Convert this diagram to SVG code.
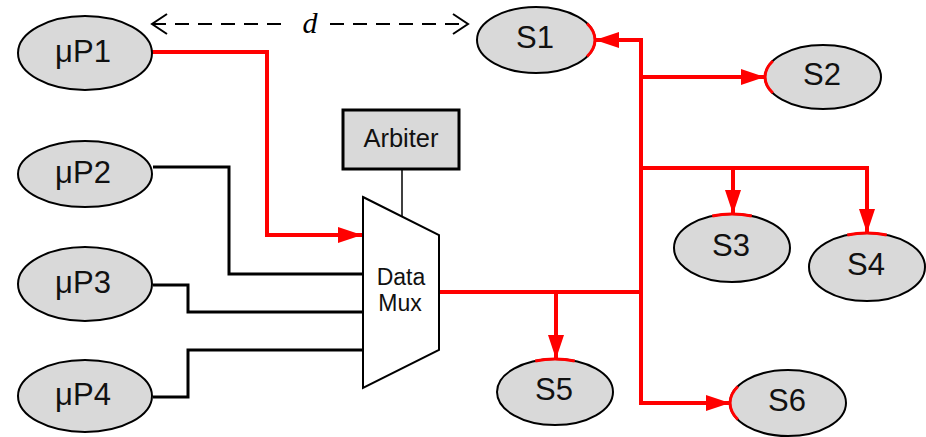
<svg xmlns="http://www.w3.org/2000/svg" width="926" height="437" viewBox="0 0 926 437">
  <defs>
    <marker id="redArrow" markerUnits="userSpaceOnUse" markerWidth="26" markerHeight="18" refX="24" refY="8" orient="auto">
      <path d="M0,0 L24,8 L0,16 z" fill="#ff0000"/>
    </marker>
    <marker id="openArrow" markerUnits="userSpaceOnUse" markerWidth="20" markerHeight="24" refX="17" refY="12" orient="auto-start-reverse">
      <path d="M2,2 L17,12 L2,22" fill="none" stroke="#000" stroke-width="2"/>
    </marker>
  </defs>
  <style>
    .node { fill: #d9d9d9; stroke: #000; stroke-width: 2; }
    .lbl { font-family: "Liberation Sans", Arial, sans-serif; font-size: 31px; fill: #111; text-anchor: middle; dominant-baseline: central; }
    .red { fill: none; stroke: #ff0000; stroke-width: 4; stroke-linejoin: miter; }
    .blk { fill: none; stroke: #000; stroke-width: 3; }
    .hit { fill: none; stroke: #ff0000; stroke-width: 3; }
  </style>
  <rect width="926" height="437" fill="#fff"/>

  <!-- connectors -->
  <g id="connectors">
    <!-- distance marker -->
    <line x1="152" y1="24" x2="290" y2="24" stroke="#000" stroke-width="2" stroke-dasharray="14,9" marker-start="url(#openArrow)"/>
    <line x1="330" y1="24" x2="468" y2="24" stroke="#000" stroke-width="2" stroke-dasharray="14,9" marker-end="url(#openArrow)"/>
    <text x="310" y="22" font-family="Liberation Serif, serif" font-style="italic" font-size="30" text-anchor="middle" dominant-baseline="central">d</text>

    <!-- inputs to the mux -->
    <polyline class="red" points="152,52 267,52 267,235 362,235" marker-end="url(#redArrow)"/>
    <polyline class="blk" points="153,167 229,167 229,274 363,274"/>
    <polyline class="blk" points="153,285 188,285 188,312 363,312"/>
    <polyline class="blk" points="153,397 188,397 188,350 363,350"/>

    <!-- arbiter to mux -->
    <line x1="402" y1="169" x2="402" y2="216" stroke="#000" stroke-width="1.5"/>

    <!-- output bus -->
    <polyline class="red" points="437,292 641,292"/>
    <line class="red" x1="641" y1="38" x2="641" y2="405"/>
    <polyline class="red" points="643,40 595,40" marker-end="url(#redArrow)"/>
    <polyline class="red" points="641,77 765,77" marker-end="url(#redArrow)"/>
    <polyline class="red" points="641,168 867,168 867,233" marker-end="url(#redArrow)"/>
    <polyline class="red" points="733,168 733,214" marker-end="url(#redArrow)"/>
    <polyline class="red" points="556,292 556,359" marker-end="url(#redArrow)"/>
    <polyline class="red" points="639,403 730,403" marker-end="url(#redArrow)"/>
  </g>

  <!-- processors -->
  <g id="uP1"><ellipse class="node" cx="85" cy="53" rx="67" ry="37"/><text class="lbl" x="83" y="51">μP1</text></g>
  <g id="uP2"><ellipse class="node" cx="85" cy="174" rx="67" ry="33"/><text class="lbl" x="83" y="172">μP2</text></g>
  <g id="uP3"><ellipse class="node" cx="85" cy="284" rx="67" ry="37"/><text class="lbl" x="83" y="282">μP3</text></g>
  <g id="uP4"><ellipse class="node" cx="85" cy="396" rx="67" ry="36"/><text class="lbl" x="83" y="394">μP4</text></g>

  <!-- arbiter -->
  <g id="arbiter">
    <rect x="343" y="110" width="116" height="59" fill="#d9d9d9" stroke="#000" stroke-width="3"/>
    <text class="lbl" x="401" y="138" style="font-size:25.5px">Arbiter</text>
  </g>

  <!-- data mux -->
  <g id="mux">
    <polygon points="363,197 439,235 439,350 363,388" fill="#fff" stroke="#000" stroke-width="2"/>
    <text class="lbl" x="401" y="277" style="font-size:23px">Data</text>
    <text class="lbl" x="400" y="303" style="font-size:23px">Mux</text>
  </g>

  <!-- slaves -->
  <g id="S1"><ellipse class="node" cx="536" cy="40" rx="59" ry="33"/><path class="hit" d="M587.1,23.5 A59,33 0 0,1 587.1,56.5"/><text class="lbl" x="535" y="37">S1</text></g>
  <g id="S2"><ellipse class="node" cx="823" cy="77" rx="58" ry="32"/><path class="hit" d="M772.8,93 A58,32 0 0,1 772.8,61"/><text class="lbl" x="822" y="74">S2</text></g>
  <g id="S3"><ellipse class="node" cx="732" cy="248" rx="58" ry="34"/><path class="hit" d="M712.2,216 A58,34 0 0,1 751.8,216"/><text class="lbl" x="731" y="245">S3</text></g>
  <g id="S4"><ellipse class="node" cx="867" cy="267" rx="58" ry="34"/><path class="hit" d="M847.2,235 A58,34 0 0,1 886.8,235"/><text class="lbl" x="866" y="264">S4</text></g>
  <g id="S5"><ellipse class="node" cx="555" cy="392" rx="58" ry="33"/><path class="hit" d="M535.2,361 A58,33 0 0,1 574.8,361"/><text class="lbl" x="554" y="389">S5</text></g>
  <g id="S6"><ellipse class="node" cx="788" cy="403" rx="58" ry="33"/><path class="hit" d="M737.8,419.5 A58,33 0 0,1 737.8,386.5"/><text class="lbl" x="787" y="400">S6</text></g>
</svg>
